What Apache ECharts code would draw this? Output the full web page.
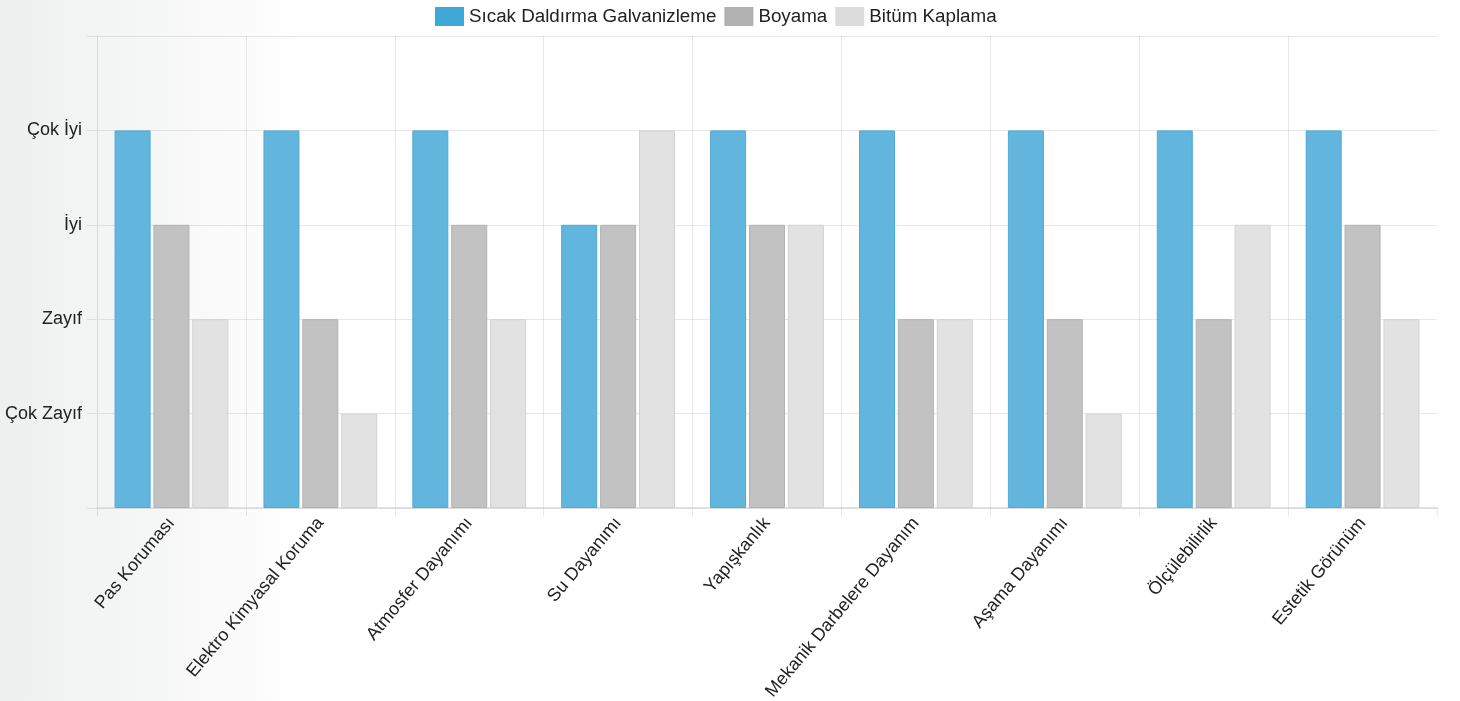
<!DOCTYPE html>
<html>
<head>
<meta charset="utf-8">
<script src="https://cdn.jsdelivr.net/npm/echarts@6/dist/echarts.min.js"></script>
<style>
html,body{margin:0;padding:0;width:1460px;height:701px;overflow:hidden;
background:linear-gradient(to right,#eef0f0 0px,#f4f5f5 120px,#fafafa 220px,#fefefe 290px,#ffffff 300px);}
#c{width:1460px;height:701px;}
</style>
</head>
<body>
<div id="c"></div>
<script>
const categories = ['Pas Koruması','Elektro Kimyasal Koruma','Atmosfer Dayanımı','Su Dayanımı','Yapışkanlık','Mekanik Darbelere Dayanım','Aşama Dayanımı','Ölçülebilirlik','Estetik Görünüm'];
const seriesNames = ['Sıcak Daldırma Galvanizleme','Boyama','Bitüm Kaplama'];
const galvaniz = [4,4,4,3,4,4,4,4,4];
const boyama = [3,2,3,3,3,2,2,2,3];
const bitum = [2,1,2,4,3,2,1,3,2];
const levelLabels = ['', 'Çok Zayıf', 'Zayıf', 'İyi', 'Çok İyi', ''];

const fills = ['#62b6dd','#c2c2c2','#e2e2e2'];
const borders = ['#4eaad6','#b2b2b2','#d2d2d2'];
const legendColors = ['#3ea8d6','#b1b1b1','#dcdcdc'];
const FONT = "'Liberation Sans', Arial, Helvetica, sans-serif";
const gridColor = 'rgba(0,0,0,0.09)';

const chart = echarts.init(document.getElementById('c'), null, {renderer:'canvas'});
const values = [galvaniz, boyama, bitum];
chart.setOption({
  backgroundColor: 'transparent',
  animation: false,
  legend: {
    top: 7, left: 435, padding: 0,
    itemWidth: 29, itemHeight: 19, itemGap: 8,
    icon: 'rect',
    textStyle: {fontFamily: FONT, fontSize: 18.8, color: '#222'},
    data: seriesNames.map((n,i)=>({name:n, itemStyle:{color:legendColors[i], borderWidth:0}}))
  },
  grid: {left: 97, right: 23, top: 36, bottom: 193, containLabel: false, outerBoundsMode: 'none'},
  xAxis: {
    type: 'category',
    data: categories,
    boundaryGap: true,
    axisLine: {show: true, lineStyle: {color: '#d8d8d8', width: 1.5}},
    axisTick: {show: true, length: 8, interval: 0, lineStyle: {color: gridColor}},
    splitLine: {show: true, interval: 0, showMaxLine: false, lineStyle: {color: gridColor}},
    axisLabel: {interval: 0, rotate: 50, margin: 12, fontFamily: FONT, fontSize: 18, color: '#222'}
  },
  yAxis: {
    type: 'value', min: 0, max: 5, interval: 1,
    axisLine: {show: true, lineStyle: {color: '#d8d8d8'}},
    axisTick: {show: true, length: 10, lineStyle: {color: gridColor}},
    splitLine: {show: true, lineStyle: {color: gridColor}},
    axisLabel: {margin: 15, fontFamily: FONT, fontSize: 18, color: '#222',
      formatter: v => levelLabels[v] || ''}
  },
  series: seriesNames.map((n,i)=>({
    name: n, type: 'bar', data: values[i],
    barWidth: 36, barGap: '8%',
    itemStyle: {color: fills[i], borderColor: borders[i], borderWidth: 1}
  }))
});
</script>
</body>
</html>
